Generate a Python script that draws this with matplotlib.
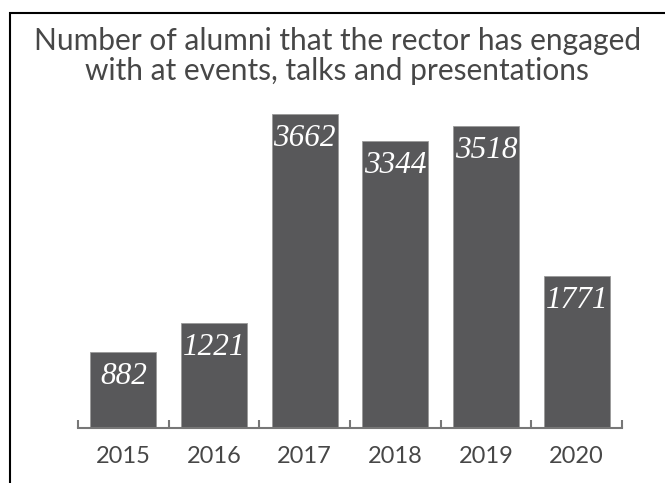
import matplotlib.pyplot as plt
import matplotlib.patches as patches
import numpy as np

years = ['2015', '2016', '2017', '2018', '2019', '2020']
alumni = [882, 1221, 3662, 3344, 3518, 1771]

bar_color = '#58585a'
text_color = '#474747'

fig = plt.figure(figsize=(6.65, 4.83), dpi=100)
ax = fig.add_axes([78/665, 55/483, 544/665, 360/483])

x = np.arange(len(years))
bars = ax.bar(x, alumni, width=0.73, color=bar_color, edgecolor='#9a9a9a', linewidth=0.6)

# value labels inside the top of each bar
for xi, v in zip(x, alumni):
    ax.annotate(str(v), (xi, v), xytext=(0, -24), textcoords='offset pixels',
                ha='center', va='center', color='white', fontsize=22.5,
                family='Liberation Serif', style='italic')

ax.set_xlim(-0.5, 5.5)
ax.set_ylim(0, 4200)
ax.set_yticks([])
for s in ['top', 'right', 'left']:
    ax.spines[s].set_visible(False)
ax.spines['bottom'].set_color('#777777')
ax.spines['bottom'].set_linewidth(1.5)

ax.set_xticks(x)
ax.set_xticklabels(years, fontsize=17, color=text_color, family='Lato')
ax.tick_params(axis='x', which='major', length=0, pad=13)
ax.set_xticks(np.arange(-0.5, 6, 1), minor=True)
ax.tick_params(axis='x', which='minor', direction='in', length=6, width=1.5, color='#777777')

fig.text(0.507, 0.915, 'Number of alumni that the rector has engaged', ha='center', va='center',
         fontsize=21.5, color=text_color, family='Lato')
fig.text(0.507, 0.853, 'with at events, talks and presentations', ha='center', va='center',
         fontsize=21.5, color=text_color, family='Lato')

# border frame
fig.patches.append(patches.Rectangle((10/665, -0.1), 1.2, (483-13)/483 + 0.1,
                                     transform=fig.transFigure, fill=False,
                                     edgecolor='black', linewidth=1.5))

fig.savefig('out.png', dpi=100)
